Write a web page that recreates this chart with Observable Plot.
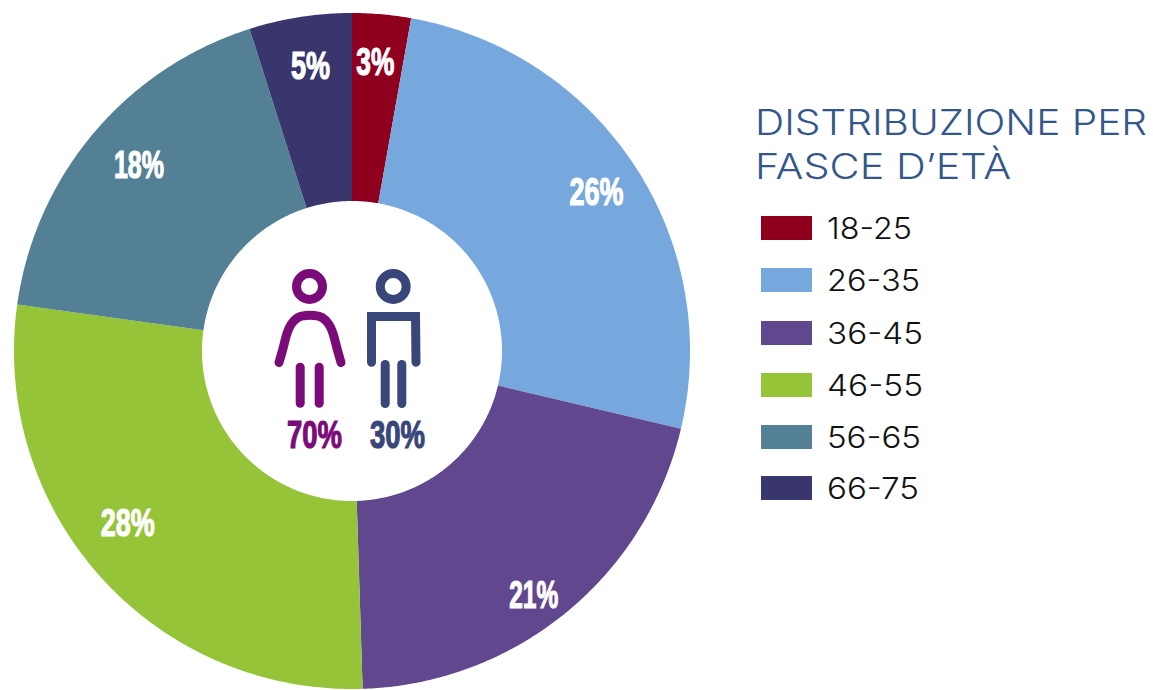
<!DOCTYPE html>
<html><head><meta charset="utf-8">
<script src="https://cdn.jsdelivr.net/npm/d3@7"></script>
<script src="https://cdn.jsdelivr.net/npm/@observablehq/plot@0.6"></script>
<style>
html,body{margin:0;padding:0;background:#fff}
#wrap{position:relative;width:1153px;height:690px;overflow:hidden}
#chart{position:absolute;left:0;top:0}
.t{position:absolute;white-space:nowrap;font-family:Inter,sans-serif;transform-origin:0 0}
.title{left:755px;color:#33578a;font-size:35px;line-height:44px;font-weight:300}
.lab{left:827px;color:#111;font-size:30px;line-height:34px;font-weight:300}
.sw{position:absolute;left:761px;width:51px;height:24px}
</style></head><body>
<div id="wrap"><div id="chart"></div></div>
<script>
const ages = ["18-25","26-35","36-45","46-55","56-65","66-75"];
const shares = [2.8,25.9,20.8,27.7,17.9,4.9];
const shareLabels = ["3%","26%","21%","28%","18%","5%"];
const colors = ["#8f001f","#76a7dd","#61478e","#95c439","#538095","#38366d"];
const labelAngles = [4.5,57,143.4,232.6,311,351.6];
const labelRadii = [290,291,304,283,283,288];
const labelWidths = [38,54,49,54,50,39];
const genders = ["70%","30%"];
const genderColors = ["#7b0b78","#384679"];
const titleLines = ["DISTRIBUZIONE PER","FASCE D’ETÀ"];

const R = 338, r0 = 150;
const total = d3.sum(shares);
const pol = (a,rad)=>({x:rad*Math.sin(a*Math.PI/180), y:-rad*Math.cos(a*Math.PI/180)});
let cum = 0;
const ring = [];
shares.forEach((v,i)=>{
  const a0 = cum/total*360; cum += v; const a1 = cum/total*360;
  const n = Math.ceil(a1-a0)*2;
  for(let k=0;k<=n;k++){
    const a = a0+(a1-a0)*k/n, p=pol(a,r0), q=pol(a,R);
    ring.push({age:ages[i],x1:p.x,y1:p.y,x2:q.x,y2:q.y});
  }
});
const labels = ages.map((a,i)=>({...pol(labelAngles[i],labelRadii[i]),t:shareLabels[i],w:labelWidths[i]}));

const woman = [[-31,11],[-27,-3],[-23,-18],[-19,-27],[-12,-34],[-4,-36],[4,-36],[12,-34],[19,-27],[23,-18],[27,-3],[31,11]].map(([x,y])=>({x:x-42.5,y}));
const man = [[-22,10.7],[-22,-35],[22,-35],[22.5,10.7]].map(([x,y])=>({x:x+41,y}));
const legs = (x,y0,y1,id)=>[{x,y:y0,id},{x,y:y1,id}];
const wLegs = [...legs(-52.3,15.7,51.7,"a"),...legs(-33.3,15.7,51.7,"b")];
const mLegs = [...legs(32.7,13,52,"a"),...legs(49.3,13,52,"b")];

const pctStyle = {fontSize:38,fontWeight:700,fontFamily:"Liberation Sans",className:"pct"};
const plot = Plot.plot({
  width:704,height:690,margin:0,
  x:{domain:[-352,352],range:[0,704],axis:null},
  y:{domain:[-351,339],range:[0,690],axis:null},
  color:{domain:ages,range:colors},
  marks:[
    Plot.area(ring,{x1:"x1",y1:"y1",x2:"x2",y2:"y2",fill:"age",z:"age",curve:"linear"}),
    Plot.text(labels,{x:"x",y:"y",text:"t",fill:"white",...pctStyle}),
    Plot.dot([{x:-43,y:-65}],{x:"x",y:"y",r:13,stroke:genderColors[0],strokeWidth:9,fill:"none"}),
    Plot.dot([{x:40.7,y:-65}],{x:"x",y:"y",r:13,stroke:genderColors[1],strokeWidth:9,fill:"none"}),
    Plot.line(woman,{x:"x",y:"y",stroke:genderColors[0],strokeWidth:9,curve:"catmull-rom",strokeLinecap:"round"}),
    Plot.line(wLegs,{x:"x",y:"y",z:"id",stroke:genderColors[0],strokeWidth:9,strokeLinecap:"round"}),
    Plot.line(man,{x:"x",y:"y",stroke:genderColors[1],strokeWidth:9,strokeLinejoin:"miter",strokeMiterlimit:4,strokeLinecap:"round"}),
    Plot.line(mLegs,{x:"x",y:"y",z:"id",stroke:genderColors[1],strokeWidth:9,strokeLinecap:"round"}),
    Plot.text([{x:-38,y:84,t:genders[0],w:55}],{x:"x",y:"y",text:"t",fill:genderColors[0],...pctStyle}),
    Plot.text([{x:45,y:84,t:genders[1],w:55}],{x:"x",y:"y",text:"t",fill:genderColors[1],...pctStyle})
  ]
});
document.getElementById("chart").append(plot);
const widthByText = new Map([...labels.map(d=>[d.t,d.w]),[genders[0],55],[genders[1],55]]);
plot.querySelectorAll(".pct text").forEach(t=>{
  t.setAttribute("textLength", widthByText.get(t.textContent));
  t.setAttribute("lengthAdjust","spacingAndGlyphs");
  t.style.stroke=getComputedStyle(t).fill;
  t.style.strokeWidth="1.2px";
});

const wrap=document.getElementById("wrap");
function add(cls,txt,top,target){
  const e=document.createElement("div");e.className="t "+cls;e.textContent=txt;e.style.top=top+"px";wrap.append(e);
  const w=e.getBoundingClientRect().width;
  e.style.transform=`scaleX(${target/w})`;
}
add("title",titleLines[0],100,392);
add("title",titleLines[1],144,256);
ages.forEach((a,i)=>{
  const cy=[228,280,333,385,437,488][i];
  const s=document.createElement("div");s.className="sw";s.style.top=(cy-12)+"px";s.style.background=colors[i];wrap.append(s);
  add("lab",a,cy-17,[85,93,96,96,94,92][i]);
});
</script></body></html>
